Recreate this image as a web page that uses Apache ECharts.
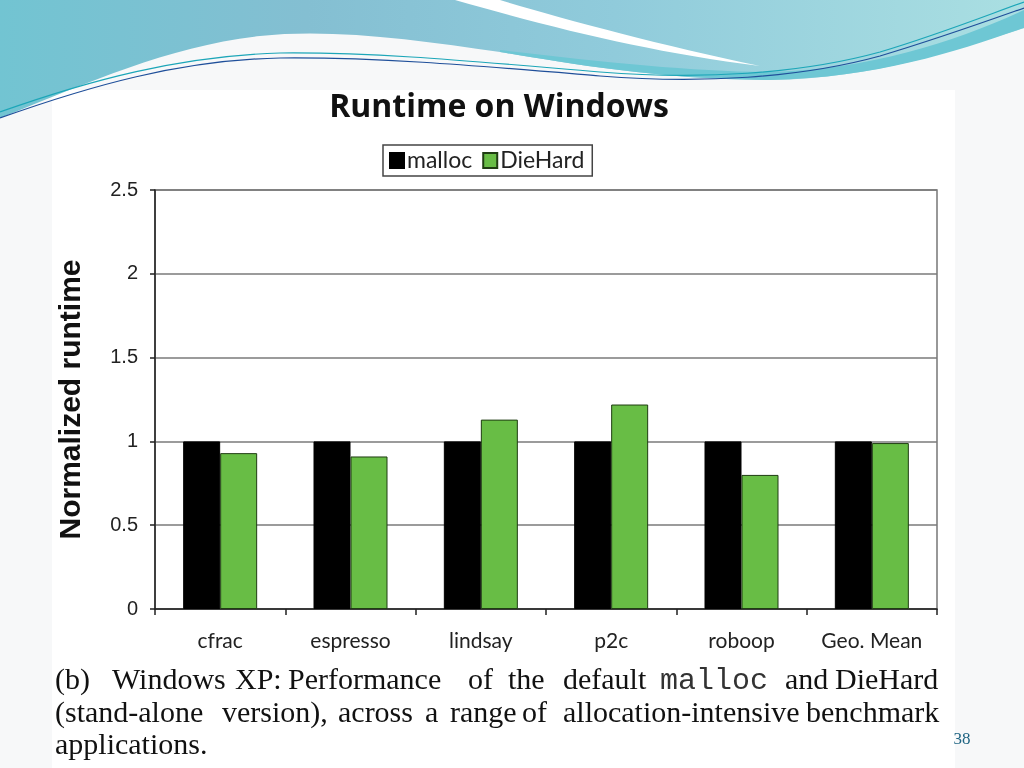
<!DOCTYPE html>
<html>
<head>
<meta charset="utf-8">
<script src="https://cdn.jsdelivr.net/npm/echarts@6/dist/echarts.min.js"></script>
<style>
html,body{margin:0;padding:0;background:#f7f8f9;}
#wrap{position:relative;width:1024px;height:768px;}
#bg{position:absolute;left:0;top:0;}
#main{position:absolute;left:0;top:0;width:1024px;height:768px;}
</style>
</head>
<body>
<div id="wrap">
<svg id="bg" width="1024" height="768" xmlns="http://www.w3.org/2000/svg">
  <defs>
    <linearGradient id="g1" x1="0" y1="0" x2="1" y2="0">
      <stop offset="0" stop-color="#72c4d2"/>
      <stop offset="0.3" stop-color="#84bfd2"/>
      <stop offset="0.6" stop-color="#90cbdb"/>
      <stop offset="1" stop-color="#aadfe2"/>
    </linearGradient>
  </defs>
  <rect x="52" y="90" width="903" height="678" fill="#ffffff"/>
  <path d="M0,0 L1024,0 L1024,28 C960,48 880,78 770,80 C660,80 560,62 500,52 C420,40 330,28 260,36 C170,46 90,82 0,118 Z" fill="url(#g1)"/>
  <path d="M500,50 C600,62 700,72 770,72 C870,70 960,40 1024,10 L1024,28 C960,50 880,78 770,80 C660,80 560,62 500,52 Z" fill="#6ec7d4"/>
  <path d="M455,0 L500,0 C560,18 660,45 760,66 C650,52 560,30 455,0 Z" fill="#ffffff"/>
  <path d="M0,112 C90,80 180,56 280,53 C380,52 480,62 600,72 C700,80 800,74 880,52 C940,34 990,14 1024,2" fill="none" stroke="#1ca6b8" stroke-width="1.2"/>
  <path d="M0,118 C90,86 180,60 280,58 C380,57 480,66 600,76 C700,84 800,78 880,56 C940,38 990,20 1024,8" fill="none" stroke="#1f4f9a" stroke-width="1.2"/>
</svg>
<div id="main"></div>
</div>
<script>
const categories = ['cfrac', 'espresso', 'lindsay', 'p2c', 'roboop', 'Geo. Mean'];
const mallocValues = [1, 1, 1, 1, 1, 1];
const dieHardValues = [0.93, 0.91, 1.13, 1.22, 0.80, 0.99];
const yTicks = [0, 0.5, 1, 1.5, 2, 2.5];
const captionLines = [
  [['(b)',55],['Windows',112],['XP:',235],['Performance',288],['of',468],['the',508],['default',563],['malloc',660,true],['and',785],['DieHard',835]],
  [['(stand-alone',55],['version),',222],['across',338],['a',425],['range',450],['of',522],['allocation-intensive',563],['benchmark',806]],
  [['applications.',55]]
];
const captionY = [681, 714, 746];

const chart = echarts.init(document.getElementById('main'));

const graphics = [];
captionLines.forEach((line, li) => {
  line.forEach(w => {
    graphics.push({type:'text', x:w[1], y:captionY[li], style:{
      text:w[0], fontSize:30,
      fontFamily: w[2] ? '"Liberation Mono", monospace' : '"Liberation Serif", serif',
      fill: w[2] ? '#333' : '#111',
      verticalAlign:'middle', align:'left'}});
  });
});
graphics.push({type:'text', x:962, y:740, style:{text:'38', fill:'#1f6482', fontSize:17, fontFamily:'"Liberation Serif", serif', align:'center', verticalAlign:'middle'}});

const option = {
  backgroundColor: 'transparent',
  animation: false,
  title: {
    text: 'Runtime on Windows', left: 494, top: 87, textAlign: 'center',
    textStyle: {fontFamily: '"Open Sans"', fontWeight: 'bold', fontSize: 32, color: '#111'}
  },
  legend: {
    data: ['malloc', 'DieHard'], left: 383, top: 145,
    orient: 'horizontal', icon: 'rect', itemWidth: 14, itemHeight: 15, itemGap: 10,
    borderColor: '#444', borderWidth: 1.5, padding: [4, 8, 4, 6],
    textStyle: {fontFamily: 'Lato', fontSize: 23, color: '#222', padding: [0,0,0,-2]}
  },
  grid: {left: 155, right: 87, top: 190, bottom: 159, show: true, borderColor: '#777', borderWidth: 1.5, containLabel: false},
  xAxis: {
    type: 'category', data: categories,
    axisLine: {lineStyle: {color: '#222', width: 1.5}},
    axisTick: {show: true, interval: 0, length: 6, lineStyle: {color: '#222', width: 1.5}},
    axisLabel: {interval: 0, fontFamily: 'Lato', fontSize: 21, color: '#222', margin: 22}
  },
  yAxis: {
    type: 'value', min: 0, max: 2.5, interval: 0.5,
    name: 'Normalized runtime', nameLocation: 'middle', nameGap: 68, nameRotate: 90,
    nameTextStyle: {fontFamily: '"Liberation Sans", Arial', fontWeight: 'bold', fontSize: 30, color: '#111'},
    axisLine: {show: true, lineStyle: {color: '#222', width: 1.5}},
    axisTick: {show: true, length: 5, lineStyle: {color: '#222', width: 1.5}},
    axisLabel: {fontFamily: '"Liberation Sans", Arial', fontSize: 20, color: '#222', margin: 17,
      formatter: v => yTicks.includes(v) ? String(v) : ''},
    splitLine: {show: true, lineStyle: {color: '#7a7a7a', width: 1.5}}
  },
  series: [
    {name: 'malloc', type: 'bar', data: mallocValues, barWidth: 37, barGap: '0%',
      itemStyle: {color: '#000000', borderColor: '#000', borderWidth: 1}},
    {name: 'DieHard', type: 'bar', data: dieHardValues, barWidth: 37,
      itemStyle: {color: '#68bd45', borderColor: '#1f3d12', borderWidth: 1}}
  ],
  graphic: graphics
};
chart.setOption(option);
</script>
</body>
</html>
